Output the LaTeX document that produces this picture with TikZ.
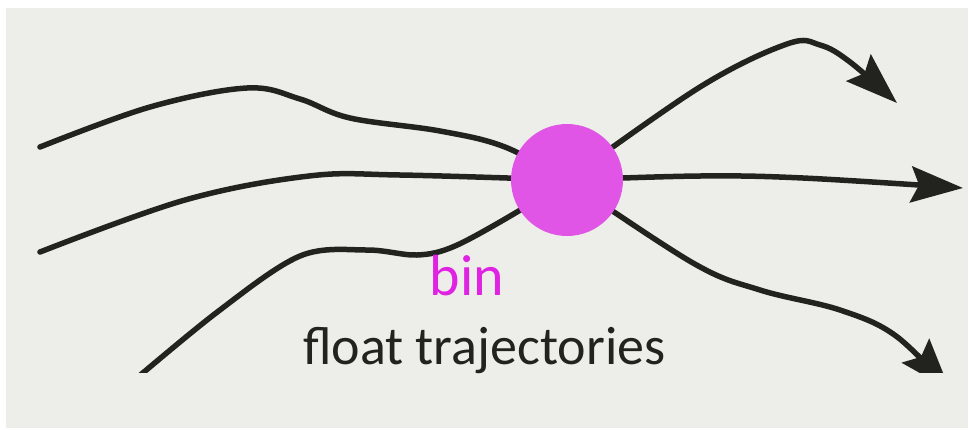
\documentclass[tikz,border=0pt]{standalone}
\usepackage{fontspec}
\setmainfont{Carlito}
\usetikzlibrary{arrows.meta}
\definecolor{paper}{RGB}{237,237,233}
\definecolor{ink}{RGB}{34,34,30}
\definecolor{binfill}{RGB}{224,85,229}
\definecolor{binlabel}{RGB}{224,34,226}
\begin{document}
\begin{tikzpicture}[x=1pt,y=-1pt,
  traj/.style={draw=ink, line width=5.5pt, line cap=round, line join=round},
  head/.style={-{Stealth[length=52pt,width=36pt,inset=8pt]}},
  label/.style={inner sep=0pt, anchor=base}]
\useasboundingbox (0,0) rectangle (969,429);
\fill[paper] (6,8) rectangle (968,428);

% bin centre and free ends of the trajectories
\coordinate (c) at (567,180);
\coordinate (inA) at (40,147);
\coordinate (inB) at (40,252);
\coordinate (inC) at (118,394);
\coordinate (outA) at (897,103);
\coordinate (outB) at (963,188);
\coordinate (outC) at (950,390);

\begin{scope}
  \clip (6,8) rectangle (968,372);
  % incoming trajectories
  \draw[traj] plot[smooth, tension=0.6] coordinates
    {(inA) (150,107) (247,88) (300,99) (350,118) (440,131) (505,147) (c)};
  \draw[traj] plot[smooth, tension=0.6] coordinates
    {(inB) (185,200) (309,176) (400,175) (c)};
  \draw[traj] plot[smooth, tension=0.55] coordinates
    {(inC) (216,313) (300,256) (367,250) (417,255) (455,246) (517,212) (c)};
  % outgoing trajectories
  \draw[traj, head] plot[smooth, tension=0.6] coordinates
    {(c) (700,87) (787,44) (820,45) (850,62) (outA)};
  \draw[traj, head] plot[smooth, tension=0.6] coordinates
    {(c) (700,176) (803,178) (outB)};
  \draw[traj, head] plot[smooth, tension=0.6] coordinates
    {(c) (693,263) (760,290) (840,310) (896,336) (outC)};
\end{scope}

% the bin the floats pass through
\node[circle, fill=binfill, minimum size=112pt, inner sep=0pt] (bin) at (c) {};

\node[label, text=binlabel, font=\fontsize{58}{64}\selectfont] (binname) at (467,295) {bin};
\node[label, anchor=base west, text=ink, font=\fontsize{54}{60}\selectfont] (caption) at (303,364) {float trajectories};
\end{tikzpicture}
\end{document}
